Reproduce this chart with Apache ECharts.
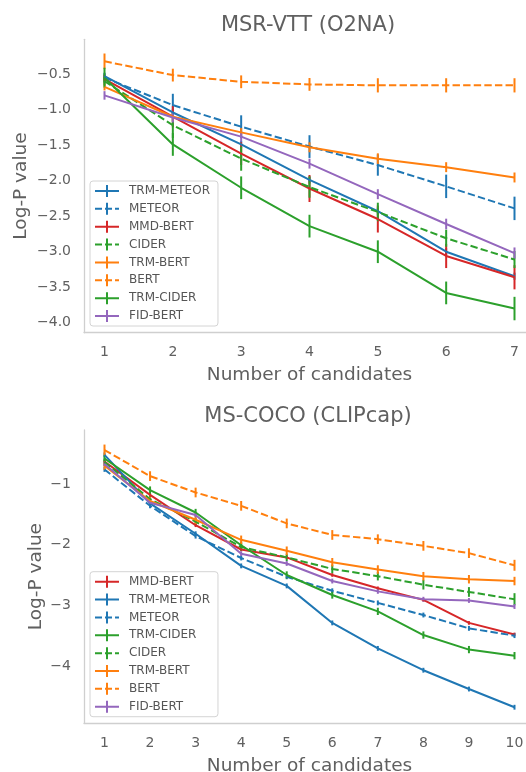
<!DOCTYPE html>
<html><head><meta charset="utf-8">
<script src="https://cdn.jsdelivr.net/npm/echarts@6/dist/echarts.min.js"></script>
<style>html,body{margin:0;padding:0;background:#fff}#c{width:526px;height:772px}</style>
</head><body><div id="c"></div>
<script>
// ---------------- DATA: top chart (MSR-VTT) ----------------
const topTitle = 'MSR-VTT (O2NA)';
const topX = [1, 2, 3, 4, 5, 6, 7];
const topXTicks = [1, 2, 3, 4, 5, 6, 7];
const topYTicks = [-0.5, -1.0, -1.5, -2.0, -2.5, -3.0, -3.5, -4.0];
const topOrder = ['TRM-METEOR', 'METEOR', 'MMD-BERT', 'CIDER', 'TRM-BERT', 'BERT', 'TRM-CIDER', 'FID-BERT'];
const topTrmMeteor    = [-0.53, -1.04, -1.49, -1.99, -2.43, -3.00, -3.345];
const topTrmMeteorErr = [0.05, 0.05, 0.05, 0.05, 0.05, 0.05, 0.05];
const topMeteor       = [-0.55, -0.937, -1.24, -1.52, -1.78, -2.08, -2.39];
const topMeteorErr    = [0.06, 0.16, 0.16, 0.16, 0.15, 0.165, 0.165];
const topMmdBert      = [-0.57, -1.10, -1.62, -2.11, -2.54, -3.06, -3.36];
const topMmdBertErr   = [0.06, 0.15, 0.16, 0.19, 0.19, 0.17, 0.17];
const topCider        = [-0.60, -1.22, -1.69, -2.09, -2.44, -2.81, -3.11];
const topCiderErr     = [0.06, 0.18, 0.17, 0.15, 0.13, 0.12, 0.12];
const topTrmBert      = [-0.68, -1.10, -1.32, -1.53, -1.69, -1.81, -1.955];
const topTrmBertErr   = [0.05, 0.06, 0.06, 0.07, 0.075, 0.07, 0.07];
const topBert         = [-0.32, -0.514, -0.608, -0.645, -0.658, -0.658, -0.658];
const topBertErr      = [0.11, 0.09, 0.09, 0.09, 0.1, 0.1, 0.1];
const topTrmCider     = [-0.55, -1.49, -2.10, -2.64, -3.00, -3.58, -3.80];
const topTrmCiderErr  = [0.14, 0.16, 0.16, 0.16, 0.16, 0.16, 0.165];
const topFidBert      = [-0.80, -1.11, -1.38, -1.76, -2.19, -2.61, -3.02];
const topFidBertErr   = [0.06, 0.07, 0.07, 0.07, 0.07, 0.075, 0.08];

// ---------------- DATA: bottom chart (MS-COCO) ----------------
const botTitle = 'MS-COCO (CLIPcap)';
const botX = [1, 2, 3, 4, 5, 6, 7, 8, 9, 10];
const botXTicks = [1, 2, 3, 4, 5, 6, 7, 8, 9, 10];
const botYTicks = [-1, -2, -3, -4];
const botOrder = ['MMD-BERT', 'TRM-METEOR', 'METEOR', 'TRM-CIDER', 'CIDER', 'TRM-BERT', 'BERT', 'FID-BERT'];
const botMmdBert      = [-0.63, -1.18, -1.68, -2.08, -2.21, -2.50, -2.72, -2.91, -3.29, -3.48];
const botMmdBertErr   = [0.03, 0.03, 0.03, 0.03, 0.03, 0.03, 0.03, 0.03, 0.03, 0.03];
const botTrmMeteor    = [-0.52, -1.32, -1.82, -2.35, -2.68, -3.29, -3.71, -4.07, -4.38, -4.68];
const botTrmMeteorErr = [0.04, 0.04, 0.04, 0.04, 0.04, 0.04, 0.04, 0.04, 0.04, 0.04];
const botMeteor       = [-0.76, -1.36, -1.86, -2.22, -2.53, -2.76, -2.96, -3.16, -3.38, -3.50];
const botMeteorErr    = [0.04, 0.04, 0.04, 0.04, 0.04, 0.04, 0.04, 0.04, 0.04, 0.04];
const botTrmCider     = [-0.58, -1.10, -1.47, -2.01, -2.50, -2.83, -3.10, -3.49, -3.73, -3.83];
const botTrmCiderErr  = [0.06, 0.06, 0.06, 0.06, 0.06, 0.06, 0.06, 0.06, 0.06, 0.06];
const botCider        = [-0.64, -1.25, -1.62, -2.04, -2.21, -2.40, -2.52, -2.66, -2.78, -2.90];
const botCiderErr     = [0.06, 0.06, 0.06, 0.06, 0.06, 0.07, 0.07, 0.08, 0.08, 0.1];
const botTrmBert      = [-0.70, -1.28, -1.59, -1.92, -2.10, -2.29, -2.41, -2.52, -2.57, -2.60];
const botTrmBertErr   = [0.07, 0.07, 0.07, 0.07, 0.07, 0.07, 0.07, 0.07, 0.07, 0.07];
const botBert         = [-0.44, -0.87, -1.14, -1.36, -1.65, -1.84, -1.91, -2.02, -2.14, -2.34];
const botBertErr      = [0.09, 0.08, 0.08, 0.08, 0.08, 0.08, 0.08, 0.08, 0.08, 0.09];
const botFidBert      = [-0.67, -1.31, -1.51, -2.15, -2.31, -2.60, -2.77, -2.90, -2.92, -3.02];
const botFidBertErr   = [0.04, 0.04, 0.04, 0.04, 0.04, 0.04, 0.04, 0.04, 0.04, 0.04];

// ---------------- assembly ----------------
const topSeriesData = {
  'TRM-METEOR': [topTrmMeteor, topTrmMeteorErr], 'METEOR': [topMeteor, topMeteorErr],
  'MMD-BERT': [topMmdBert, topMmdBertErr], 'CIDER': [topCider, topCiderErr],
  'TRM-BERT': [topTrmBert, topTrmBertErr], 'BERT': [topBert, topBertErr],
  'TRM-CIDER': [topTrmCider, topTrmCiderErr], 'FID-BERT': [topFidBert, topFidBertErr]
};
const botSeriesData = {
  'MMD-BERT': [botMmdBert, botMmdBertErr], 'TRM-METEOR': [botTrmMeteor, botTrmMeteorErr],
  'METEOR': [botMeteor, botMeteorErr], 'TRM-CIDER': [botTrmCider, botTrmCiderErr],
  'CIDER': [botCider, botCiderErr], 'TRM-BERT': [botTrmBert, botTrmBertErr],
  'BERT': [botBert, botBertErr], 'FID-BERT': [botFidBert, botFidBertErr]
};

const FONT = 'DejaVu Sans';
const TXT = '#606060';
const STYLE = {
  'TRM-METEOR': { color: '#1f77b4', dashed: false },
  'METEOR':     { color: '#1f77b4', dashed: true },
  'MMD-BERT':   { color: '#d62728', dashed: false },
  'CIDER':      { color: '#2ca02c', dashed: true },
  'TRM-BERT':   { color: '#ff7f0e', dashed: false },
  'BERT':       { color: '#ff7f0e', dashed: true },
  'TRM-CIDER':  { color: '#2ca02c', dashed: false },
  'FID-BERT':   { color: '#9467bd', dashed: false }
};
const ICON_SOLID = 'path://M0,5L24,5L24,7L0,7Z M11,0L13,0L13,12L11,12Z';
const ICON_DASH = 'path://M0,5L7,5L7,7L0,7Z M10,5L17,5L17,7L10,7Z M20,5L24,5L24,7L20,7Z M11,0L13,0L13,12L11,12Z';

const minus = v => String(v).replace('-', '\u2212');
function tickFmt(ticks, dec) {
  return v => {
    for (const t of ticks) if (Math.abs(v - t) < 1e-6) return minus(t.toFixed(dec));
    return '';
  };
}

function makeSeries(order, xs, dataMap, gi) {
  const out = [];
  order.forEach(name => {
    const st = STYLE[name];
    const [ys, es] = dataMap[name];
    out.push({
      type: 'line', name: name, xAxisIndex: gi, yAxisIndex: gi,
      data: xs.map((x, i) => [x, ys[i]]),
      showSymbol: false, symbol: 'none',
      lineStyle: { color: st.color, width: 2, type: st.dashed ? [7.4, 3.2] : 'solid', cap: 'butt' },
      itemStyle: { color: st.color },
      emphasis: { disabled: true }, silent: true, animation: false
    });
    out.push({
      type: 'custom', name: name + ' err', xAxisIndex: gi, yAxisIndex: gi,
      data: xs.map((x, i) => [x, ys[i], es[i]]),
      encode: { x: 0, y: 1 },
      renderItem: (params, api) => {
        const x = api.value(0), y = api.value(1), e = api.value(2);
        const p1 = api.coord([x, y - e]);
        const p2 = api.coord([x, y + e]);
        return { type: 'line', shape: { x1: p1[0], y1: p1[1], x2: p2[0], y2: p2[1] },
          style: { stroke: st.color, lineWidth: 2 } };
      },
      silent: true, animation: false
    });
  });
  return out;
}

function legendFor(order, top) {
  return {
    orient: 'vertical', left: 90, top: top,
    padding: [4, 8, 4, 5],
    itemWidth: 24, itemHeight: 12, itemGap: 5.86,
    backgroundColor: 'rgba(255,255,255,0.8)',
    borderColor: '#d4d4d4', borderWidth: 1, borderRadius: 3,
    textStyle: { fontFamily: FONT, fontSize: 12, color: '#555', lineHeight: 12, padding: [0, 0, 0, 5] },
    selectedMode: false,
    data: order.map(n => ({ name: n, icon: STYLE[n].dashed ? ICON_DASH : ICON_SOLID, itemStyle: { color: STYLE[n].color } }))
  };
}

const axisLineStyle = { show: true, onZero: false, lineStyle: { color: '#cfcfcf', width: 1.3 } };

const option = {
  backgroundColor: '#fff',
  animation: false,
  title: [
    { text: topTitle, left: 308, textAlign: 'center', top: 15.5, padding: 0,
      textStyle: { fontFamily: FONT, fontSize: 21, fontWeight: 'normal', color: TXT } },
    { text: botTitle, left: 308, textAlign: 'center', top: 406.5, padding: 0,
      textStyle: { fontFamily: FONT, fontSize: 21, fontWeight: 'normal', color: TXT } }
  ],
  grid: [
    { left: 84, top: 39.3, width: 451, height: 293.4, containLabel: false, outerBoundsMode: 'none' },
    { left: 84, top: 430, width: 451, height: 293.3, containLabel: false, outerBoundsMode: 'none' }
  ],
  xAxis: [
    { type: 'value', gridIndex: 0, min: 0.7, max: 7.3, splitNumber: 7,
      name: 'Number of candidates', nameLocation: 'middle', nameGap: 33, nameMoveOverlap: false,
      nameTextStyle: { fontFamily: FONT, fontSize: 18.5, color: TXT },
      axisLine: axisLineStyle, axisTick: { show: false }, splitLine: { show: false },
      axisLabel: { fontFamily: FONT, fontSize: 14, color: TXT, margin: 13, formatter: tickFmt(topXTicks, 0) } },
    { type: 'value', gridIndex: 1, min: 0.55, max: 10.45, splitNumber: 10,
      name: 'Number of candidates', nameLocation: 'middle', nameGap: 33, nameMoveOverlap: false,
      nameTextStyle: { fontFamily: FONT, fontSize: 18.5, color: TXT },
      axisLine: axisLineStyle, axisTick: { show: false }, splitLine: { show: false },
      axisLabel: { fontFamily: FONT, fontSize: 14, color: TXT, margin: 13, formatter: tickFmt(botXTicks, 0) } }
  ],
  yAxis: [
    { type: 'value', gridIndex: 0, min: -4.14, max: -0.01, splitNumber: 8,
      name: 'Log-P value', nameLocation: 'middle', nameGap: 53, nameMoveOverlap: false,
      nameTextStyle: { fontFamily: FONT, fontSize: 18.5, color: TXT },
      axisLine: axisLineStyle, axisTick: { show: false }, splitLine: { show: false },
      axisLabel: { fontFamily: FONT, fontSize: 14, color: TXT, margin: 13, formatter: tickFmt(topYTicks, 1) } },
    { type: 'value', gridIndex: 1, min: -4.945, max: -0.11, splitNumber: 5,
      name: 'Log-P value', nameLocation: 'middle', nameGap: 38, nameMoveOverlap: false,
      nameTextStyle: { fontFamily: FONT, fontSize: 18.5, color: TXT },
      axisLine: axisLineStyle, axisTick: { show: false }, splitLine: { show: false },
      axisLabel: { fontFamily: FONT, fontSize: 14, color: TXT, margin: 13, formatter: tickFmt(botYTicks, 0) } }
  ],
  legend: [legendFor(topOrder, 181), legendFor(botOrder, 571.7)],
  series: makeSeries(topOrder, topX, topSeriesData, 0).concat(makeSeries(botOrder, botX, botSeriesData, 1))
};

const chart = echarts.init(document.getElementById('c'), null, { renderer: 'canvas' });
chart.setOption(option);
</script></body></html>
